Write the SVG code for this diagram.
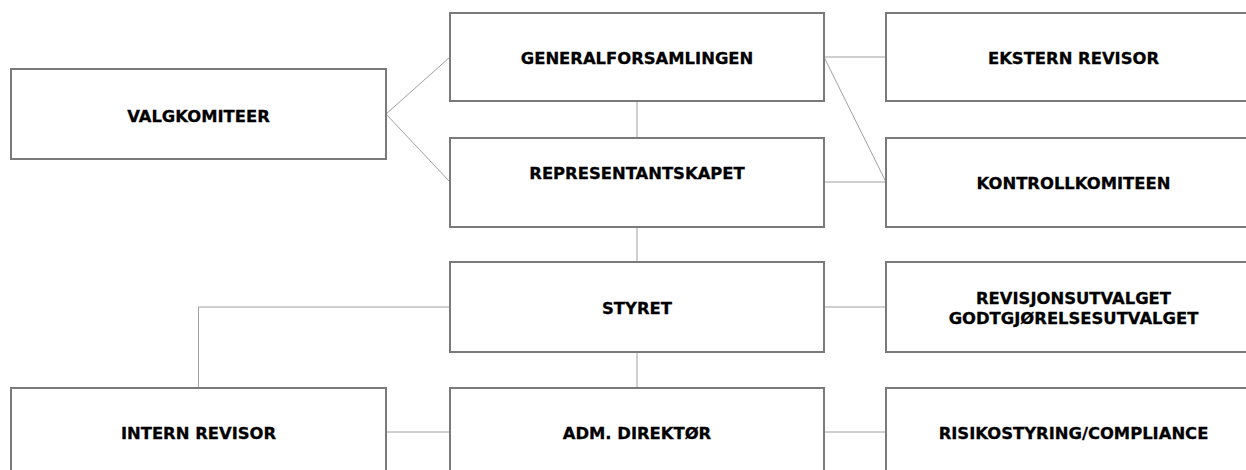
<svg xmlns="http://www.w3.org/2000/svg" width="1246" height="470" viewBox="0 0 1246 470">
<style>
.box{fill:#fff;stroke:#7a7a7a;stroke-width:2}
.lbl{font-family:"DejaVu Sans",Verdana,sans-serif;font-weight:bold;font-size:16.4px;fill:#000;stroke:#000;stroke-width:0.3px;text-anchor:middle}
.con{fill:none;stroke:#a0a0a0;stroke-width:1}
</style>
<rect width="1246" height="470" fill="#fff"/>
<g id="connectors">
<line class="con" x1="386" y1="114" x2="450" y2="57"/>
<line class="con" x1="386" y1="114" x2="450" y2="182"/>
<line class="con" x1="637" y1="101" x2="637" y2="138"/>
<line class="con" x1="637" y1="227" x2="637" y2="262"/>
<line class="con" x1="637" y1="352" x2="637" y2="388"/>
<line class="con" x1="824" y1="57" x2="886" y2="57"/>
<line class="con" x1="824" y1="57" x2="886" y2="182"/>
<line class="con" x1="824" y1="182" x2="886" y2="182"/>
<line class="con" x1="824" y1="307" x2="886" y2="307"/>
<line class="con" x1="824" y1="432" x2="886" y2="432"/>
<line class="con" x1="386" y1="432" x2="450" y2="432"/>
<polyline class="con" points="450,307 198.5,307 198.5,388"/>
</g>
<g id="valgkomiteer"><rect class="box" x="11" y="69" width="375" height="90"/><text class="lbl" x="198.5" y="121.5">VALGKOMITEER</text></g>
<g id="generalforsamlingen"><rect class="box" x="450" y="13" width="374" height="88"/><text class="lbl" x="637" y="64">GENERALFORSAMLINGEN</text></g>
<g id="representantskapet"><rect class="box" x="450" y="138" width="374" height="89"/><text class="lbl" x="637" y="179">REPRESENTANTSKAPET</text></g>
<g id="ekstern-revisor"><rect class="box" x="886" y="13" width="375" height="88"/><text class="lbl" x="1073.5" y="64">EKSTERN REVISOR</text></g>
<g id="kontrollkomiteen"><rect class="box" x="886" y="138" width="375" height="89"/><text class="lbl" x="1073.5" y="189">KONTROLLKOMITEEN</text></g>
<g id="styret"><rect class="box" x="450" y="262" width="374" height="90"/><text class="lbl" x="637" y="314">STYRET</text></g>
<g id="utvalg"><rect class="box" x="886" y="262" width="375" height="90"/><text class="lbl" x="1073.5" y="304">REVISJONSUTVALGET</text><text class="lbl" x="1073.5" y="324">GODTGJØRELSESUTVALGET</text></g>
<g id="intern-revisor"><rect class="box" x="11" y="388" width="375" height="90"/><text class="lbl" x="198.5" y="439">INTERN REVISOR</text></g>
<g id="adm-direktor"><rect class="box" x="450" y="388" width="374" height="90"/><text class="lbl" x="637" y="439">ADM. DIREKTØR</text></g>
<g id="risikostyring"><rect class="box" x="886" y="388" width="375" height="90"/><text class="lbl" x="1073.5" y="439">RISIKOSTYRING/COMPLIANCE</text></g>
</svg>
